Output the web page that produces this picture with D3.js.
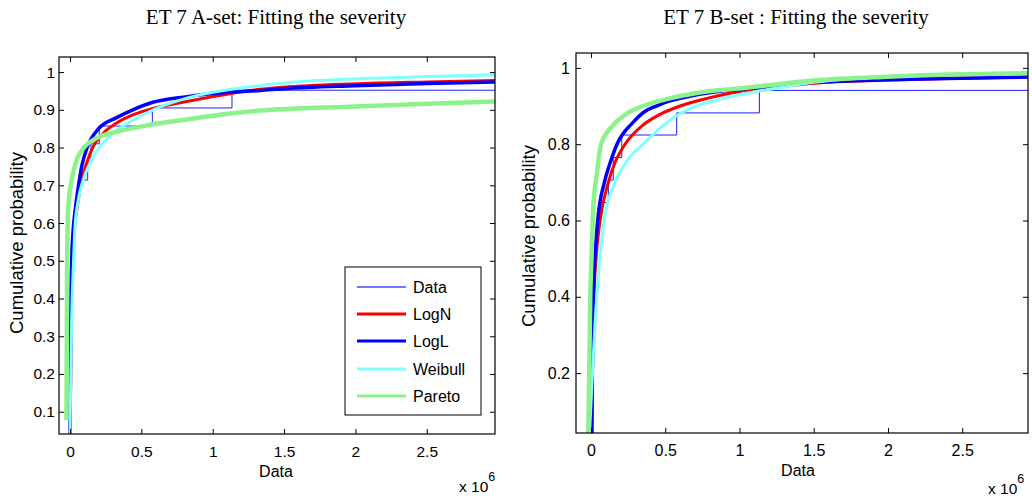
<!DOCTYPE html>
<html>
<head>
<meta charset="utf-8">
<script src="https://cdn.jsdelivr.net/npm/d3@7"></script>
<style>
  body { margin: 0; background: #fff; }
</style>
</head>
<body>
<div id="chart"></div>
<script>
/* two CDF panels: empirical severity data vs fitted distributions */

const seriesNames = ["Data", "LogN", "LogL", "Weibull", "Pareto"];
const xTicks = [0, 0.5, 1, 1.5, 2, 2.5];          // x 10^6
const yTicksA = [0.1, 0.2, 0.3, 0.4, 0.5, 0.6, 0.7, 0.8, 0.9, 1];
const yTicksB = [0.2, 0.4, 0.6, 0.8, 1];

// A-set: sorted observations (x 10^6) and empirical cdf levels
const aDataX = [0.0005, 0.001, 0.0015, 0.002, 0.003, 0.004, 0.005, 0.006, 0.008, 0.011, 0.014,
                0.017, 0.025, 0.042, 0.058, 0.124, 0.147, 0.205, 0.577, 1.135, 3.4];
const aDataP = [0.048, 0.095, 0.143, 0.190, 0.238, 0.286, 0.333, 0.381, 0.429, 0.476, 0.524,
                0.571, 0.619, 0.667, 0.714, 0.762, 0.810, 0.857, 0.905, 0.952, 1.0];

// A-set fitted cdfs, [x, p]
const aLogN = [[0.001,0.041],[0.004,0.15],[0.008,0.3],[0.013,0.45],[0.02,0.53],[0.03,0.585],[0.05,0.64],
               [0.082,0.714],[0.117,0.759],[0.163,0.803],[0.233,0.838],[0.327,0.865],[0.444,0.887],
               [0.584,0.904],[0.818,0.922],[1.14,0.944],[1.26,0.951],[1.5,0.96],[2.0,0.969],[2.5,0.974],[2.98,0.978]];
const aLogL = [[0.0,0.041],[0.003,0.2],[0.007,0.4],[0.012,0.5],[0.022,0.58],[0.035,0.63],[0.06,0.7],
               [0.082,0.75],[0.12,0.8],[0.2,0.85],[0.33,0.88],[0.44,0.9],[0.58,0.92],[0.82,0.935],
               [1.14,0.947],[1.33,0.951],[1.5,0.956],[2.0,0.964],[2.5,0.97],[2.98,0.974]];
const aWeib = [[0.0,0.041],[0.004,0.15],[0.012,0.35],[0.025,0.5],[0.035,0.59],[0.058,0.661],[0.093,0.714],
               [0.14,0.759],[0.21,0.803],[0.3,0.838],[0.444,0.873],[0.584,0.9],[0.818,0.931],[1.14,0.955],
               [1.33,0.964],[1.5,0.971],[2.0,0.982],[2.5,0.988],[2.98,0.993]];
const aPareto = [[-0.025,0.078],[-0.022,0.3],[-0.02,0.5],[-0.012,0.643],[0.012,0.714],[0.047,0.767],
                 [0.105,0.803],[0.187,0.825],[0.327,0.842],[0.56,0.86],[0.794,0.873],[1.14,0.891],
                 [1.33,0.898],[2.0,0.909],[2.5,0.916],[2.98,0.922]];

// B-set
const bDataX = [0.001, 0.003, 0.005, 0.007, 0.009, 0.011, 0.013, 0.016, 0.03, 0.043, 0.06,
                0.117, 0.15, 0.207, 0.577, 1.134, 3.2];
const bDataP = [0.059, 0.118, 0.176, 0.235, 0.294, 0.353, 0.412, 0.471, 0.529, 0.588, 0.647,
                0.706, 0.765, 0.824, 0.882, 0.941, 1.0];

const bLogN = [[0.007,0.043],[0.01,0.2],[0.02,0.4],[0.034,0.5],[0.061,0.6],[0.117,0.7],[0.16,0.75],
               [0.23,0.8],[0.35,0.85],[0.45,0.875],[0.6,0.9],[0.78,0.92],[1.03,0.94],[1.206,0.948],
               [1.5,0.96],[2.0,0.968],[2.5,0.973],[2.94,0.976]];
const bLogL = [[0.005,0.043],[0.009,0.2],[0.016,0.4],[0.027,0.505],[0.045,0.6],[0.09,0.7],[0.128,0.75],
               [0.175,0.8],[0.285,0.858],[0.36,0.885],[0.44,0.9],[0.52,0.912],[0.6,0.92],[0.89,0.94],
               [1.03,0.945],[1.206,0.951],[1.5,0.962],[2.0,0.969],[2.5,0.973],[2.94,0.976]];
const bWeib = [[-0.01,0.043],[0.01,0.2],[0.03,0.35],[0.06,0.5],[0.088,0.6],[0.162,0.7],[0.25,0.76],
               [0.35,0.8],[0.49,0.85],[0.577,0.875],[0.71,0.9],[0.89,0.92],[1.14,0.94],[1.3,0.95],
               [1.5,0.962],[2.0,0.977],[2.5,0.984],[2.94,0.988]];
const bPareto = [[-0.018,0.043],[-0.012,0.2],[-0.005,0.4],[0.003,0.5],[0.016,0.636],[0.04,0.724],
                 [0.068,0.8],[0.15,0.85],[0.25,0.882],[0.35,0.9],[0.53,0.92],[0.82,0.94],
                 [1.03,0.947],[1.206,0.955],[1.5,0.967],[2.0,0.977],[2.5,0.983],[2.94,0.986]];

const colors = { Data: "#1f1fff", LogN: "#ff0000", LogL: "#0000ff", Weibull: "#80ffff", Pareto: "#8cf28c" };
const widths = { Data: 1, LogN: 3, LogL: 3.5, Weibull: 3, Pareto: 4.5 };

const width = 1032, height = 502;

let svg = d3.select("#chart")
    .append("svg")
    .attr("width", width)
    .attr("height", height)
    .style("font-family", "'Liberation Sans', Arial, sans-serif");

function drawPanel(p) {
    let x = d3.scaleLinear().domain(p.xDomain).range([p.left, p.right]);
    let y = d3.scaleLinear().domain(p.yDomain).range([p.bottom, p.top]);

    let g = svg.append("g");

    g.append("clipPath").attr("id", p.id + "-clip")
        .append("rect")
        .attr("x", p.left).attr("y", p.top)
        .attr("width", p.right - p.left).attr("height", p.bottom - p.top);

    let plot = g.append("g").attr("clip-path", `url(#${p.id}-clip)`);

    // empirical cdf as stairs
    let stairs = [{ x: p.dataX[0], y: 0 }].concat(p.dataX.map((d, i) => ({ x: d, y: p.dataP[i] })));
    plot.append("path")
        .datum(stairs)
        .attr("fill", "none")
        .attr("stroke", colors.Data)
        .attr("stroke-width", widths.Data)
        .attr("d", d3.line().x(d => x(d.x)).y(d => y(d.y)).curve(d3.curveStepAfter));

    let line = d3.line().x(d => x(d[0])).y(d => y(d[1])).curve(d3.curveMonotoneX);
    p.fits.forEach((s, i) => {
        let name = seriesNames[i + 1];
        plot.append("path")
            .datum(s)
            .attr("fill", "none")
            .attr("stroke", colors[name])
            .attr("stroke-width", widths[name])
            .attr("stroke-linejoin", "round")
            .attr("d", line);
    });

    // axes, MATLAB style: ticks pointing inward on all four sides
    const style = a => a
        .call(a => a.select(".domain").remove())
        .call(a => a.selectAll("line").attr("stroke", "#000"))
        .attr("font-family", "'Liberation Sans', Arial, sans-serif")
        .attr("font-size", p.tickFont)
        .call(a => a.selectAll("text").attr("fill", "#000"));

    g.append("g")
        .attr("transform", `translate(0,${p.bottom})`)
        .call(d3.axisBottom(x).tickValues(xTicks).tickFormat(d3.format("")).tickSizeInner(-5).tickSizeOuter(0).tickPadding(p.xPad))
        .call(style);
    g.append("g")
        .attr("transform", `translate(0,${p.top})`)
        .call(d3.axisTop(x).tickValues(xTicks).tickFormat("").tickSizeInner(-5).tickSizeOuter(0))
        .call(style);
    g.append("g")
        .attr("transform", `translate(${p.left},0)`)
        .call(d3.axisLeft(y).tickValues(p.yTicks).tickFormat(d3.format("")).tickSizeInner(-5).tickSizeOuter(0).tickPadding(p.yPad))
        .call(style);
    g.append("g")
        .attr("transform", `translate(${p.right},0)`)
        .call(d3.axisRight(y).tickValues(p.yTicks).tickFormat("").tickSizeInner(-5).tickSizeOuter(0))
        .call(style);

    g.append("rect")
        .attr("x", p.left).attr("y", p.top)
        .attr("width", p.right - p.left).attr("height", p.bottom - p.top)
        .attr("fill", "none").attr("stroke", "#000").attr("stroke-width", 1.2);

    // texts
    g.append("text")
        .attr("x", p.titleX).attr("y", 24)
        .attr("text-anchor", "middle")
        .attr("font-family", "'Liberation Serif', 'Times New Roman', serif")
        .attr("font-size", 21)
        .text(p.title);

    g.append("text")
        .attr("x", p.xLabelX).attr("y", p.xLabelY)
        .attr("text-anchor", "middle")
        .attr("font-size", p.labelFont)
        .text("Data");

    g.append("text")
        .attr("transform", `translate(${p.yLabelX},${p.yLabelY}) rotate(-90)`)
        .attr("text-anchor", "middle")
        .attr("font-size", p.yLabelFont)
        .text("Cumulative probability");

    let exp = g.append("text")
        .attr("x", p.expX).attr("y", p.expY)
        .attr("font-size", p.labelFont - 0.5);
    exp.append("tspan").text("x 10");
    exp.append("tspan").attr("dy", -11).attr("font-size", p.labelFont - 3.5).text("6");

    return { x, y };
}

drawPanel({
    id: "a", left: 59, right: 495, top: 57, bottom: 434,
    xDomain: [-0.077, 2.978], yDomain: [0.041, 1.04], yTicks: yTicksA,
    dataX: aDataX, dataP: aDataP, fits: [aLogN, aLogL, aWeib, aPareto],
    tickFont: 15.5, xPad: 12, yPad: 4, labelFont: 16, yLabelFont: 18.5,
    title: "ET 7 A-set: Fitting the severity", titleX: 276,
    xLabelX: 276, xLabelY: 477, yLabelX: 23, yLabelY: 243, expX: 459, expY: 492
});

drawPanel({
    id: "b", left: 576, right: 1028, top: 53, bottom: 433,
    xDomain: [-0.101, 2.943], yDomain: [0.043, 1.039], yTicks: yTicksB,
    dataX: bDataX, dataP: bDataP, fits: [bLogN, bLogL, bWeib, bPareto],
    tickFont: 16, xPad: 12, yPad: 6, labelFont: 16, yLabelFont: 18.5,
    title: "ET 7 B-set : Fitting the severity", titleX: 796,
    xLabelX: 798, xLabelY: 476, yLabelX: 535, yLabelY: 236, expX: 988, expY: 494
});

// legend, inside the A panel
const legend = svg.append("g").attr("transform", "translate(345,267)");
legend.append("rect")
    .attr("width", 136).attr("height", 148)
    .attr("fill", "#fff").attr("stroke", "#000").attr("stroke-width", 1);

let row = legend.selectAll(".row")
    .data(seriesNames)
    .join("g")
    .attr("class", "row")
    .attr("transform", (d, i) => `translate(0,${[20, 47, 74, 102, 129][i]})`);

row.append("line")
    .attr("x1", 12).attr("x2", 61)
    .attr("stroke", d => d === "Data" ? "#7474ff" : colors[d])
    .attr("stroke-width", d => d === "Data" ? 2 : 3);

row.append("text")
    .attr("x", 68).attr("dy", "0.35em")
    .attr("font-size", 16)
    .text(d => d);
</script>
</body>
</html>
